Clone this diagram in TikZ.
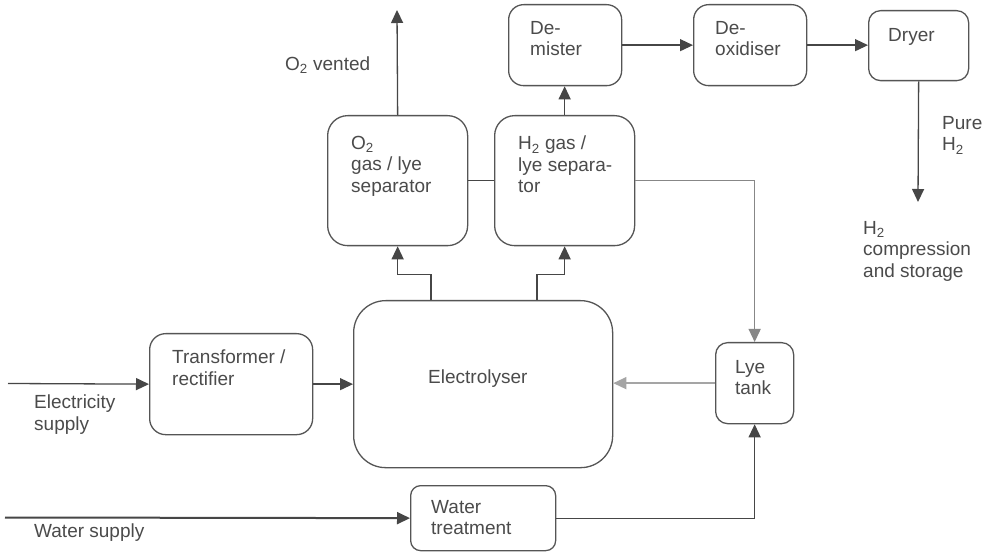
\documentclass[tikz,border=0pt]{standalone}
\usepackage{fontspec}
\setmainfont{Liberation Sans}
\usetikzlibrary{arrows.meta}
\definecolor{boxc}{RGB}{85,85,85}
\definecolor{linec}{RGB}{70,70,70}
\definecolor{txtc}{RGB}{75,75,75}
\definecolor{grayc}{RGB}{135,135,135}
\definecolor{lightc}{RGB}{165,165,165}
\begin{document}
\begin{tikzpicture}[x=1pt,y=-1pt,
  box/.style={draw=boxc, line width=1.3pt, rounded corners=#1, anchor=north west, inner sep=0pt},
  box/.default=12pt,
  lbl/.style={font=\fontsize{19}{21.5}\selectfont, text=txtc, inner sep=0pt, align=left, anchor=north west, yshift=15.05pt, execute at begin node=\strut},
  conn/.style={draw=linec, line width=1.3pt},
  tip/.style={-{Triangle[length=13pt,width=12pt]}},
  arr/.style={conn, tip},
  arrgray/.style={draw=grayc, line width=1.3pt, tip},
  arrlight/.style={draw=lightc, line width=1.3pt, tip},
  arrthick/.style={draw=linec, line width=2pt, tip}
]
\useasboundingbox[fill=white] (0,0) rectangle (983,553);

% boxes
\node[box=20pt, minimum width=140pt, minimum height=130pt] (o2sep) at (327,115) {};
\node[box=20pt, minimum width=140pt, minimum height=130pt] (h2sep) at (494,115) {};
\node[box=15pt, minimum width=113pt, minimum height=81pt] (demister) at (508,4) {};
\node[box=15pt, minimum width=113pt, minimum height=81pt] (deox) at (693,4) {};
\node[box=12pt, minimum width=100pt, minimum height=70pt] (dryer) at (868,10) {};
\node[box=16pt, minimum width=163pt, minimum height=101pt] (trans) at (149,333) {};
\node[box=32pt, minimum width=259pt, minimum height=167pt] (elec) at (353,300) {};
\node[box=12pt, minimum width=78pt, minimum height=81pt] (lye) at (715,342) {};
\node[box=10pt, minimum width=145pt, minimum height=65pt] (wt) at (410,485) {};

% texts (positions are first-line baselines)
\node[lbl] (to2v) at (285,70) {O\textsubscript{2} vented};
\node[lbl] (to2s) at (351,151) {O\textsubscript{2}\\gas / lye\\separator};
\node[lbl] (th2s) at (518,151) {H\textsubscript{2} gas /\\lye separa-\\tor};
\node[lbl] (tdem) at (530,36) {De-\\mister};
\node[lbl] (tdeo) at (715,36) {De-\\oxidiser};
\node[lbl] (tdry) at (888,41) {Dryer};
\node[lbl] (tpure) at (942,131) {Pure\\H\textsubscript{2}};
\node[lbl] (tcomp) at (863,236) {H\textsubscript{2}\\compression\\and storage};
\node[lbl] (ttrans) at (172,365) {Transformer /\\rectifier};
\node[lbl] (telec) at (34,410) {Electricity\\supply};
\node[lbl] (twat) at (34,537) {Water supply};
\node[lbl] (tely) at (428,383) {Electrolyser};
\node[lbl] (tlye) at (735,375) {Lye\\tank};
\node[lbl] (twt) at (431,515) {Water\\treatment};

% free ends
\coordinate (o2vent) at (397,10);
\coordinate (h2out) at (918,202);
\coordinate (elin) at (8,383.5);
\coordinate (win) at (5,517.5);

% connectors
\draw[arr] (o2sep.north) -- (o2vent);
\draw[conn] (o2sep.east) -- (h2sep.west);
\draw[arr] (h2sep.north) -- (h2sep.north |- demister.south);
\draw[arr] (demister.east) -- (deox.west);
\draw[arr] (deox.east) -- (dryer.west |- deox.east);
\draw[arr] (dryer.south) -- (h2out);
\draw[arrgray] (h2sep.east) -| (lye.north);
\draw[arrlight] (lye.west) -- (lye.west -| elec.east);
\draw[arr] (trans.east) -- (elec.west);
\draw[arr] (elin) -- (trans.west);
\draw[arrthick] (win) -- (wt.west);
\draw[arr] (wt.east) -| (lye.south);
\draw[arr] ([xshift=78pt]elec.north west) |- ([yshift=-28pt]o2sep.south) -- (o2sep.south);
\draw[arr] ([xshift=184pt]elec.north west) |- ([yshift=-28pt]h2sep.south) -- (h2sep.south);
\end{tikzpicture}
\end{document}
